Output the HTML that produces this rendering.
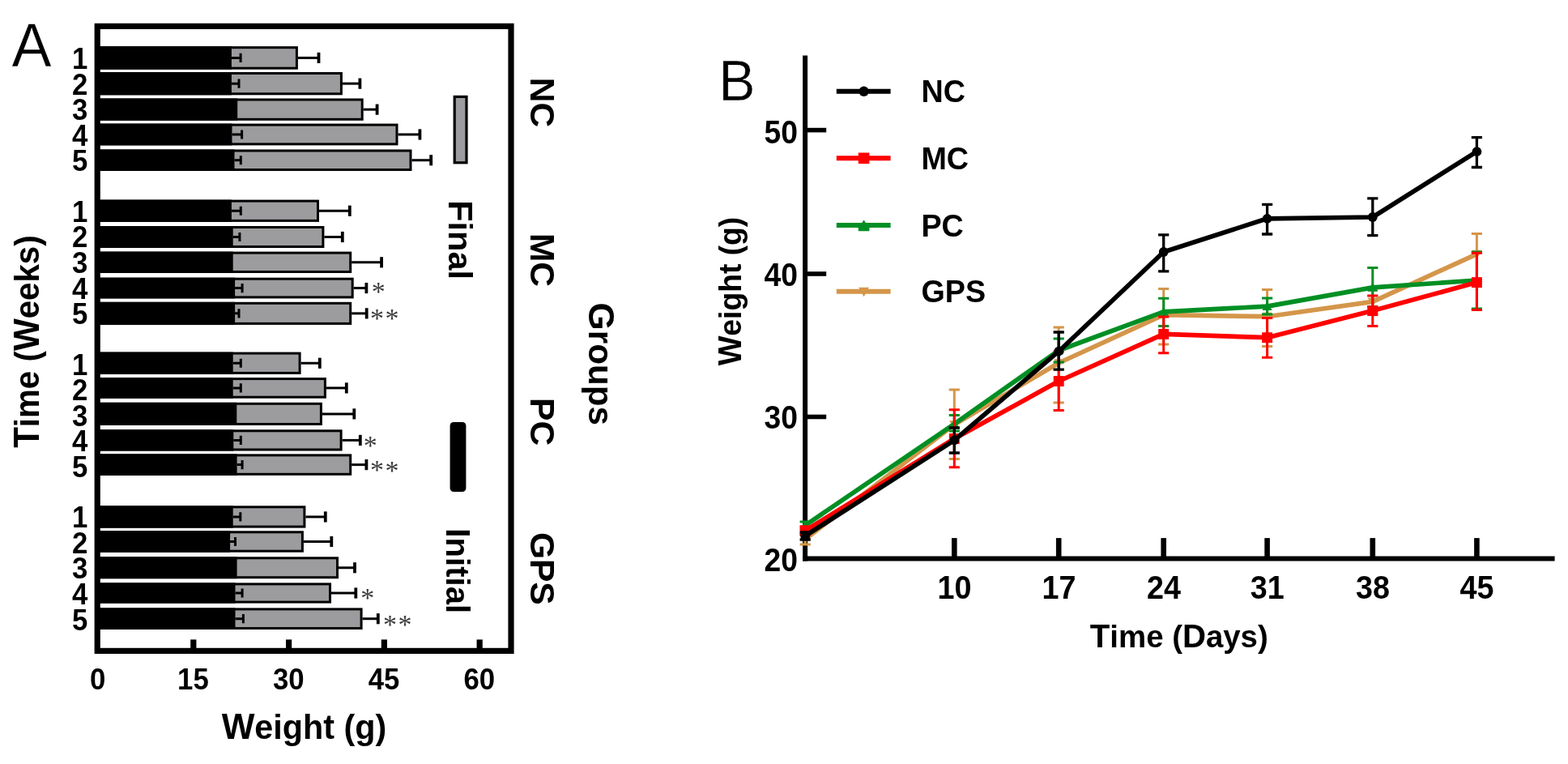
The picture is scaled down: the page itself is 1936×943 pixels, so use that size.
<!DOCTYPE html>
<html lang="en">
<head>
<meta charset="utf-8">
<title>Figure</title>
<style>
html,body{margin:0;padding:0;background:#fff;}
body{width:1936px;height:943px;overflow:hidden;}
svg{display:block;}
svg text{font-family:"Liberation Sans", sans-serif;fill:#000;}
svg text.pl{stroke:#fff;stroke-width:0.5px;}
svg text.st{font-family:"Liberation Serif",serif;font-size:34px;fill:#3c3c3c;}
</style>
</head>
<body>
<svg width="1936" height="943" viewBox="0 0 1936 943">
<rect x="0" y="0" width="1936" height="943" fill="#ffffff"/>
<g id="panelA">
<text class="pl" transform="translate(14.6 81.8) scale(1 1.03)" font-size="73.6" font-weight="400">A</text>
<rect x="120.2" y="58.65" width="246.2" height="25.55" fill="#9c9c9f" stroke="#000" stroke-width="3.0"/>
<path d="M367.9 71.42H393.5" stroke="#000" stroke-width="3" fill="none"/>
<path d="M393.5 64.83V78.02" stroke="#000" stroke-width="3.8" fill="none"/>
<rect x="120.2" y="57.15" width="165.7" height="28.55" fill="#000"/>
<path d="M285.9 71.42H297.1M297.1 65.83V77.02" stroke="#000" stroke-width="3" fill="none"/>
<text transform="translate(98.6 85.1) scale(0.955 1.0)" font-size="36.4" font-weight="700" text-anchor="middle">1</text>
<rect x="120.2" y="90.5" width="301.2" height="25.3" fill="#9c9c9f" stroke="#000" stroke-width="3.0"/>
<path d="M422.9 103.15H444.4" stroke="#000" stroke-width="3" fill="none"/>
<path d="M444.4 96.55V109.75" stroke="#000" stroke-width="3.8" fill="none"/>
<rect x="120.2" y="89" width="165.7" height="28.3" fill="#000"/>
<path d="M285.9 103.15H295M295 97.55V108.75" stroke="#000" stroke-width="3" fill="none"/>
<text transform="translate(98.6 116.65) scale(0.955 1.0)" font-size="36.4" font-weight="700" text-anchor="middle">2</text>
<rect x="120.2" y="123" width="327" height="24.3" fill="#9c9c9f" stroke="#000" stroke-width="3.0"/>
<path d="M448.7 135.15H465.6" stroke="#000" stroke-width="3" fill="none"/>
<path d="M465.6 128.55V141.75" stroke="#000" stroke-width="3.8" fill="none"/>
<rect x="120.2" y="121.5" width="173" height="27.3" fill="#000"/>
<text transform="translate(98.6 148.2) scale(0.955 1.0)" font-size="36.4" font-weight="700" text-anchor="middle">3</text>
<rect x="120.2" y="154.1" width="369.8" height="23.8" fill="#9c9c9f" stroke="#000" stroke-width="3.0"/>
<path d="M491.5 166H518.4" stroke="#000" stroke-width="3" fill="none"/>
<path d="M518.4 159.4V172.6" stroke="#000" stroke-width="3.8" fill="none"/>
<rect x="120.2" y="152.6" width="166.3" height="26.8" fill="#000"/>
<path d="M286.5 166H298.6M298.6 160.4V171.6" stroke="#000" stroke-width="3" fill="none"/>
<text transform="translate(98.6 179.75) scale(0.955 1.0)" font-size="36.4" font-weight="700" text-anchor="middle">4</text>
<rect x="120.2" y="186" width="386.8" height="23.5" fill="#9c9c9f" stroke="#000" stroke-width="3.0"/>
<path d="M508.5 197.75H532.2" stroke="#000" stroke-width="3" fill="none"/>
<path d="M532.2 191.15V204.35" stroke="#000" stroke-width="3.8" fill="none"/>
<rect x="120.2" y="184.5" width="169.3" height="26.5" fill="#000"/>
<path d="M289.5 197.75H297.3M297.3 192.15V203.35" stroke="#000" stroke-width="3" fill="none"/>
<text transform="translate(98.6 211.3) scale(0.955 1.0)" font-size="36.4" font-weight="700" text-anchor="middle">5</text>
<rect x="120.2" y="248.1" width="272.3" height="24.3" fill="#9c9c9f" stroke="#000" stroke-width="3.0"/>
<path d="M394 260.25H431.8" stroke="#000" stroke-width="3" fill="none"/>
<path d="M431.8 253.65V266.85" stroke="#000" stroke-width="3.8" fill="none"/>
<rect x="120.2" y="246.6" width="165.7" height="27.3" fill="#000"/>
<path d="M285.9 260.25H297.3M297.3 254.65V265.85" stroke="#000" stroke-width="3" fill="none"/>
<text transform="translate(98.6 273.85) scale(0.955 1.0)" font-size="36.4" font-weight="700" text-anchor="middle">1</text>
<rect x="120.2" y="280.5" width="278.7" height="24" fill="#9c9c9f" stroke="#000" stroke-width="3.0"/>
<path d="M400.4 292.5H422.8" stroke="#000" stroke-width="3" fill="none"/>
<path d="M422.8 285.9V299.1" stroke="#000" stroke-width="3.8" fill="none"/>
<rect x="120.2" y="279" width="167.5" height="27" fill="#000"/>
<path d="M287.7 292.5H295.9M295.9 286.9V298.1" stroke="#000" stroke-width="3" fill="none"/>
<text transform="translate(98.6 305.4) scale(0.955 1.0)" font-size="36.4" font-weight="700" text-anchor="middle">2</text>
<rect x="120.2" y="312.1" width="312.5" height="23.4" fill="#9c9c9f" stroke="#000" stroke-width="3.0"/>
<path d="M434.2 323.8H471.1" stroke="#000" stroke-width="3" fill="none"/>
<path d="M471.1 317.2V330.4" stroke="#000" stroke-width="3.8" fill="none"/>
<rect x="120.2" y="310.6" width="167.5" height="26.4" fill="#000"/>
<text transform="translate(98.6 336.95) scale(0.955 1.0)" font-size="36.4" font-weight="700" text-anchor="middle">3</text>
<rect x="120.2" y="344.2" width="315" height="22.7" fill="#9c9c9f" stroke="#000" stroke-width="3.0"/>
<path d="M436.7 355.55H452.4" stroke="#000" stroke-width="3" fill="none"/>
<path d="M452.4 348.95V362.15" stroke="#000" stroke-width="3.8" fill="none"/>
<rect x="120.2" y="342.7" width="169.9" height="25.7" fill="#000"/>
<path d="M290.1 355.55H299.1M299.1 349.95V361.15" stroke="#000" stroke-width="3" fill="none"/>
<text transform="translate(98.6 368.5) scale(0.955 1.0)" font-size="36.4" font-weight="700" text-anchor="middle">4</text>
<text class="st" x="467.3" y="371.25" text-anchor="middle">*</text>
<rect x="120.2" y="374.3" width="312.5" height="25.1" fill="#9c9c9f" stroke="#000" stroke-width="3.0"/>
<path d="M434.2 386.85H452.7" stroke="#000" stroke-width="3" fill="none"/>
<path d="M452.7 380.25V393.45" stroke="#000" stroke-width="3.8" fill="none"/>
<rect x="120.2" y="372.8" width="169.9" height="28.1" fill="#000"/>
<path d="M290.1 386.85H295M295 381.25V392.45" stroke="#000" stroke-width="3" fill="none"/>
<text transform="translate(98.6 400.05) scale(0.955 1.0)" font-size="36.4" font-weight="700" text-anchor="middle">5</text>
<text class="st" x="465.4" y="403.75" text-anchor="middle">*</text>
<text class="st" x="484" y="403.75" text-anchor="middle">*</text>
<rect x="120.2" y="436.1" width="249.9" height="24.3" fill="#9c9c9f" stroke="#000" stroke-width="3.0"/>
<path d="M371.6 448.25H394.8" stroke="#000" stroke-width="3" fill="none"/>
<path d="M394.8 441.65V454.85" stroke="#000" stroke-width="3.8" fill="none"/>
<rect x="120.2" y="434.6" width="167.5" height="27.3" fill="#000"/>
<path d="M287.7 448.25H297.3M297.3 442.65V453.85" stroke="#000" stroke-width="3" fill="none"/>
<text transform="translate(98.6 462.6) scale(0.955 1.0)" font-size="36.4" font-weight="700" text-anchor="middle">1</text>
<rect x="120.2" y="467.6" width="281.2" height="22.6" fill="#9c9c9f" stroke="#000" stroke-width="3.0"/>
<path d="M402.9 478.9H427.8" stroke="#000" stroke-width="3" fill="none"/>
<path d="M427.8 472.3V485.5" stroke="#000" stroke-width="3.8" fill="none"/>
<rect x="120.2" y="466.1" width="167.5" height="25.6" fill="#000"/>
<path d="M287.7 478.9H297.3M297.3 473.3V484.5" stroke="#000" stroke-width="3" fill="none"/>
<text transform="translate(98.6 494.15) scale(0.955 1.0)" font-size="36.4" font-weight="700" text-anchor="middle">2</text>
<rect x="120.2" y="498.3" width="276.2" height="25.2" fill="#9c9c9f" stroke="#000" stroke-width="3.0"/>
<path d="M397.9 510.9H437.3" stroke="#000" stroke-width="3" fill="none"/>
<path d="M437.3 504.3V517.5" stroke="#000" stroke-width="3.8" fill="none"/>
<rect x="120.2" y="496.8" width="172.1" height="28.2" fill="#000"/>
<text transform="translate(98.6 525.7) scale(0.955 1.0)" font-size="36.4" font-weight="700" text-anchor="middle">3</text>
<rect x="120.2" y="531.8" width="300.9" height="23.2" fill="#9c9c9f" stroke="#000" stroke-width="3.0"/>
<path d="M422.6 543.4H444.8" stroke="#000" stroke-width="3" fill="none"/>
<path d="M444.8 536.8V550" stroke="#000" stroke-width="3.8" fill="none"/>
<rect x="120.2" y="530.3" width="168.1" height="26.2" fill="#000"/>
<path d="M288.3 543.4H297.3M297.3 537.8V549" stroke="#000" stroke-width="3" fill="none"/>
<text transform="translate(98.6 557.25) scale(0.955 1.0)" font-size="36.4" font-weight="700" text-anchor="middle">4</text>
<text class="st" x="457.3" y="560.75" text-anchor="middle">*</text>
<rect x="120.2" y="561.9" width="312.5" height="23.4" fill="#9c9c9f" stroke="#000" stroke-width="3.0"/>
<path d="M434.2 573.6H452.4" stroke="#000" stroke-width="3" fill="none"/>
<path d="M452.4 567V580.2" stroke="#000" stroke-width="3.8" fill="none"/>
<rect x="120.2" y="560.4" width="172.4" height="26.4" fill="#000"/>
<path d="M292.6 573.6H299.1M299.1 568V579.2" stroke="#000" stroke-width="3" fill="none"/>
<text transform="translate(98.6 588.8) scale(0.955 1.0)" font-size="36.4" font-weight="700" text-anchor="middle">5</text>
<text class="st" x="465.4" y="591.45" text-anchor="middle">*</text>
<text class="st" x="484" y="591.75" text-anchor="middle">*</text>
<rect x="120.2" y="625.8" width="255.7" height="24.3" fill="#9c9c9f" stroke="#000" stroke-width="3.0"/>
<path d="M377.4 637.95H401.8" stroke="#000" stroke-width="3" fill="none"/>
<path d="M401.8 631.35V644.55" stroke="#000" stroke-width="3.8" fill="none"/>
<rect x="120.2" y="624.3" width="167.5" height="27.3" fill="#000"/>
<path d="M287.7 637.95H296.8M296.8 632.35V643.55" stroke="#000" stroke-width="3" fill="none"/>
<text transform="translate(98.6 651.35) scale(0.955 1.0)" font-size="36.4" font-weight="700" text-anchor="middle">1</text>
<rect x="120.2" y="656.8" width="253.2" height="23.4" fill="#9c9c9f" stroke="#000" stroke-width="3.0"/>
<path d="M374.9 668.5H409.3" stroke="#000" stroke-width="3" fill="none"/>
<path d="M409.3 661.9V675.1" stroke="#000" stroke-width="3.8" fill="none"/>
<rect x="120.2" y="655.3" width="163.9" height="26.4" fill="#000"/>
<path d="M284.1 668.5H290.5M290.5 662.9V674.1" stroke="#000" stroke-width="3" fill="none"/>
<text transform="translate(98.6 682.9) scale(0.955 1.0)" font-size="36.4" font-weight="700" text-anchor="middle">2</text>
<rect x="120.2" y="688.8" width="296.3" height="23.9" fill="#9c9c9f" stroke="#000" stroke-width="3.0"/>
<path d="M418 700.75H438" stroke="#000" stroke-width="3" fill="none"/>
<path d="M438 694.15V707.35" stroke="#000" stroke-width="3.8" fill="none"/>
<rect x="120.2" y="687.3" width="172.4" height="26.9" fill="#000"/>
<text transform="translate(98.6 714.45) scale(0.955 1.0)" font-size="36.4" font-weight="700" text-anchor="middle">3</text>
<rect x="120.2" y="720.9" width="287.3" height="22.2" fill="#9c9c9f" stroke="#000" stroke-width="3.0"/>
<path d="M409 732H439.3" stroke="#000" stroke-width="3" fill="none"/>
<path d="M439.3 725.4V738.6" stroke="#000" stroke-width="3.8" fill="none"/>
<rect x="120.2" y="719.4" width="170.3" height="25.2" fill="#000"/>
<path d="M290.5 732H299.1M299.1 726.4V737.6" stroke="#000" stroke-width="3" fill="none"/>
<text transform="translate(98.6 746) scale(0.955 1.0)" font-size="36.4" font-weight="700" text-anchor="middle">4</text>
<text class="st" x="453.7" y="749.35" text-anchor="middle">*</text>
<rect x="120.2" y="751.9" width="325.9" height="23.6" fill="#9c9c9f" stroke="#000" stroke-width="3.0"/>
<path d="M447.6 763.7H466.8" stroke="#000" stroke-width="3" fill="none"/>
<path d="M466.8 757.1V770.3" stroke="#000" stroke-width="3.8" fill="none"/>
<rect x="120.2" y="750.4" width="170.3" height="26.6" fill="#000"/>
<path d="M290.5 763.7H300.4M300.4 758.1V769.3" stroke="#000" stroke-width="3" fill="none"/>
<text transform="translate(98.6 777.55) scale(0.955 1.0)" font-size="36.4" font-weight="700" text-anchor="middle">5</text>
<text class="st" x="481.6" y="781.85" text-anchor="middle">*</text>
<text class="st" x="500" y="781.85" text-anchor="middle">*</text>
<rect x="120.2" y="32.4" width="510.8" height="771" fill="none" stroke="#000" stroke-width="7.2"/>
<text transform="translate(120.6 850.6) scale(0.96 1.0)" font-size="36.2" font-weight="700" text-anchor="middle">0</text>
<path d="M238.8 803.4V789.4" stroke="#000" stroke-width="7.2" fill="none"/>
<text transform="translate(238.4 850.6) scale(0.96 1.0)" font-size="36.2" font-weight="700" text-anchor="middle">15</text>
<path d="M356.59 803.4V789.4" stroke="#000" stroke-width="7.2" fill="none"/>
<text transform="translate(356.19 850.6) scale(0.96 1.0)" font-size="36.2" font-weight="700" text-anchor="middle">30</text>
<path d="M474.38 803.4V789.4" stroke="#000" stroke-width="7.2" fill="none"/>
<text transform="translate(473.99 850.6) scale(0.96 1.0)" font-size="36.2" font-weight="700" text-anchor="middle">45</text>
<path d="M592.18 803.4V789.4" stroke="#000" stroke-width="7.2" fill="none"/>
<text transform="translate(591.78 850.6) scale(0.96 1.0)" font-size="36.2" font-weight="700" text-anchor="middle">60</text>
<text transform="translate(375.4 912.1) scale(1.0 1.03)" font-size="41.3" font-weight="700" text-anchor="middle"><tspan font-size="43.16">W</tspan>eight (g)</text>
<text transform="translate(48 421.6) rotate(-90) scale(1.0 1.055)" font-size="40.3" font-weight="700" text-anchor="middle"><tspan font-size="42.11">T</tspan>ime (<tspan font-size="42.11">W</tspan>eeks)</text>
<rect x="561.2" y="119.4" width="14.8" height="81.4" fill="#9c9c9f" stroke="#000" stroke-width="3.2"/>
<rect x="555.6" y="521" width="19.8" height="86" rx="4.5" fill="#000"/>
<text transform="translate(553.8 296) rotate(90)" font-size="41.5" font-weight="700" text-anchor="middle"><tspan font-size="43.37">F</tspan>inal</text>
<text transform="translate(550.6 704.5) rotate(90) scale(0.965 1.0)" font-size="41.5" font-weight="700" text-anchor="middle"><tspan font-size="43.37">I</tspan>nitial</text>
<text transform="translate(654.6 126.4) rotate(90)" font-size="42.5" font-weight="700" text-anchor="middle">NC</text>
<text transform="translate(654.6 321) rotate(90)" font-size="42.5" font-weight="700" text-anchor="middle">MC</text>
<text transform="translate(654.6 520.6) rotate(90)" font-size="42.5" font-weight="700" text-anchor="middle">PC</text>
<text transform="translate(654.6 701.8) rotate(90)" font-size="42.5" font-weight="700" text-anchor="middle">GPS</text>
<text transform="translate(727 449.2) rotate(90)" font-size="42.2" font-weight="700" text-anchor="middle"><tspan font-size="44.1">G</tspan>roups</text>
</g>
<g id="panelB">
<text class="pl" transform="translate(887.2 124.2) scale(1 1.03)" font-size="68" font-weight="400">B</text>
<path d="M994.1 68.4V692.4" stroke="#000" stroke-width="6.0" fill="none"/>
<path d="M991.1 689.4H1919.6" stroke="#000" stroke-width="6.0" fill="none"/>
<path d="M994.1 514.5H1020.2" stroke="#000" stroke-width="5.6" fill="none"/>
<path d="M994.1 338H1020.2" stroke="#000" stroke-width="5.6" fill="none"/>
<path d="M994.1 160.6H1020.2" stroke="#000" stroke-width="5.6" fill="none"/>
<text transform="translate(984.9 705) scale(0.905 1.0)" font-size="41.2" font-weight="700" text-anchor="end">20</text>
<text transform="translate(984.9 528.7) scale(0.905 1.0)" font-size="41.2" font-weight="700" text-anchor="end">30</text>
<text transform="translate(984.9 352.5) scale(0.905 1.0)" font-size="41.2" font-weight="700" text-anchor="end">40</text>
<text transform="translate(984.9 176.7) scale(0.905 1.0)" font-size="41.2" font-weight="700" text-anchor="end">50</text>
<path d="M1178.3 689.4V664.1" stroke="#000" stroke-width="6.6" fill="none"/>
<text transform="translate(1178.5 738.9) scale(0.925 1.0)" font-size="40.8" font-weight="700" text-anchor="middle">10</text>
<path d="M1307.2 689.4V664.1" stroke="#000" stroke-width="6.6" fill="none"/>
<text transform="translate(1307.4 738.9) scale(0.925 1.0)" font-size="40.8" font-weight="700" text-anchor="middle">17</text>
<path d="M1436.7 689.4V664.1" stroke="#000" stroke-width="6.6" fill="none"/>
<text transform="translate(1436.9 738.9) scale(0.925 1.0)" font-size="40.8" font-weight="700" text-anchor="middle">24</text>
<path d="M1564.6 689.4V664.1" stroke="#000" stroke-width="6.6" fill="none"/>
<text transform="translate(1564.8 738.9) scale(0.925 1.0)" font-size="40.8" font-weight="700" text-anchor="middle">31</text>
<path d="M1694.8 689.4V664.1" stroke="#000" stroke-width="6.6" fill="none"/>
<text transform="translate(1695 738.9) scale(0.925 1.0)" font-size="40.8" font-weight="700" text-anchor="middle">38</text>
<path d="M1823.4 689.4V664.1" stroke="#000" stroke-width="6.6" fill="none"/>
<text transform="translate(1823.6 738.9) scale(0.925 1.0)" font-size="40.8" font-weight="700" text-anchor="middle">45</text>
<text transform="translate(1455.8 799.3) scale(1.0 1.02)" font-size="38.4" font-weight="700" text-anchor="middle"><tspan font-size="40.13">T</tspan>ime (<tspan font-size="40.13">D</tspan>ays)</text>
<text transform="translate(914.6 359.6) rotate(-90) scale(0.985 1.02)" font-size="37.8" font-weight="700" text-anchor="middle"><tspan font-size="39.5">W</tspan>eight (g)</text>
<path d="M994.2 660V672M987.6 660H1000.8M987.6 672H1000.8" stroke="#d4964a" stroke-width="3.0" fill="none"/>
<path d="M1178.3 480.9V566.6M1171.7 480.9H1184.9M1171.7 566.6H1184.9" stroke="#d4964a" stroke-width="3.0" fill="none"/>
<path d="M1307.2 404V497M1300.6 404H1313.8M1300.6 497H1313.8" stroke="#d4964a" stroke-width="3.0" fill="none"/>
<path d="M1436.7 356.6V425M1430.1 356.6H1443.3M1430.1 425H1443.3" stroke="#d4964a" stroke-width="3.0" fill="none"/>
<path d="M1564.6 357.4V427.4M1558 357.4H1571.2M1558 427.4H1571.2" stroke="#d4964a" stroke-width="3.0" fill="none"/>
<path d="M1694.8 358V388M1688.2 358H1701.4M1688.2 388H1701.4" stroke="#d4964a" stroke-width="3.0" fill="none"/>
<path d="M1823.4 288.6V346.5M1816.8 288.6H1830M1816.8 346.5H1830" stroke="#d4964a" stroke-width="3.0" fill="none"/>
<polyline points="994.2,665.5 1178.3,524 1307.2,448 1436.7,388.7 1564.6,390.7 1694.8,372.4 1823.4,313.6" fill="none" stroke="#d4964a" stroke-width="5.7" stroke-linejoin="round" stroke-linecap="round"/>
<path d="M994.2 671.58L1000.28 660.64H988.12Z" fill="#d4964a"/>
<path d="M1178.3 530.08L1184.38 519.14H1172.22Z" fill="#d4964a"/>
<path d="M1307.2 454.08L1313.28 443.14H1301.12Z" fill="#d4964a"/>
<path d="M1436.7 394.78L1442.78 383.84H1430.62Z" fill="#d4964a"/>
<path d="M1564.6 396.78L1570.68 385.84H1558.52Z" fill="#d4964a"/>
<path d="M1694.8 378.48L1700.88 367.54H1688.72Z" fill="#d4964a"/>
<path d="M1823.4 319.68L1829.48 308.74H1817.32Z" fill="#d4964a"/>
<path d="M994.2 644V653M987.6 644H1000.8M987.6 653H1000.8" stroke="#008f24" stroke-width="3.0" fill="none"/>
<path d="M1178.3 512.6V532M1171.7 512.6H1184.9M1171.7 532H1184.9" stroke="#008f24" stroke-width="3.0" fill="none"/>
<path d="M1307.2 418V447M1300.6 418H1313.8M1300.6 447H1313.8" stroke="#008f24" stroke-width="3.0" fill="none"/>
<path d="M1436.7 368.2V402.4M1430.1 368.2H1443.3M1430.1 402.4H1443.3" stroke="#008f24" stroke-width="3.0" fill="none"/>
<path d="M1564.6 368V388M1558 368H1571.2M1558 388H1571.2" stroke="#008f24" stroke-width="3.0" fill="none"/>
<path d="M1694.8 330.6V378.6M1688.2 330.6H1701.4M1688.2 378.6H1701.4" stroke="#008f24" stroke-width="3.0" fill="none"/>
<path d="M1823.4 311V381M1816.8 311H1830M1816.8 381H1830" stroke="#008f24" stroke-width="3.0" fill="none"/>
<polyline points="994.2,648.5 1178.3,523.3 1307.2,432.5 1436.7,384.9 1564.6,378.1 1694.8,354.9 1823.4,346" fill="none" stroke="#008f24" stroke-width="5.7" stroke-linejoin="round" stroke-linecap="round"/>
<path d="M994.2 642.42L1000.28 653.36H988.12Z" fill="#008f24"/>
<path d="M1178.3 517.22L1184.38 528.16H1172.22Z" fill="#008f24"/>
<path d="M1307.2 426.42L1313.28 437.36H1301.12Z" fill="#008f24"/>
<path d="M1436.7 378.82L1442.78 389.76H1430.62Z" fill="#008f24"/>
<path d="M1564.6 372.02L1570.68 382.96H1558.52Z" fill="#008f24"/>
<path d="M1694.8 348.82L1700.88 359.76H1688.72Z" fill="#008f24"/>
<path d="M1823.4 339.92L1829.48 350.86H1817.32Z" fill="#008f24"/>
<path d="M994.2 650V660M987.6 650H1000.8M987.6 660H1000.8" stroke="#ff0000" stroke-width="3.0" fill="none"/>
<path d="M1178.3 505.8V576.8M1171.7 505.8H1184.9M1171.7 576.8H1184.9" stroke="#ff0000" stroke-width="3.0" fill="none"/>
<path d="M1307.2 434V506.5M1300.6 434H1313.8M1300.6 506.5H1313.8" stroke="#ff0000" stroke-width="3.0" fill="none"/>
<path d="M1436.7 391V435.7M1430.1 391H1443.3M1430.1 435.7H1443.3" stroke="#ff0000" stroke-width="3.0" fill="none"/>
<path d="M1564.6 392.4V441.2M1558 392.4H1571.2M1558 441.2H1571.2" stroke="#ff0000" stroke-width="3.0" fill="none"/>
<path d="M1694.8 364.9V402.4M1688.2 364.9H1701.4M1688.2 402.4H1701.4" stroke="#ff0000" stroke-width="3.0" fill="none"/>
<path d="M1823.4 312.3V382.4M1816.8 312.3H1830M1816.8 382.4H1830" stroke="#ff0000" stroke-width="3.0" fill="none"/>
<polyline points="994.2,655 1178.3,541.5 1307.2,470.5 1436.7,412.4 1564.6,416.7 1694.8,383.6 1823.4,348.6" fill="none" stroke="#ff0000" stroke-width="5.7" stroke-linejoin="round" stroke-linecap="round"/>
<rect x="987.74" y="648.54" width="12.92" height="12.92" fill="#ff0000"/>
<rect x="1171.84" y="535.04" width="12.92" height="12.92" fill="#ff0000"/>
<rect x="1300.74" y="464.04" width="12.92" height="12.92" fill="#ff0000"/>
<rect x="1430.24" y="405.94" width="12.92" height="12.92" fill="#ff0000"/>
<rect x="1558.14" y="410.24" width="12.92" height="12.92" fill="#ff0000"/>
<rect x="1688.34" y="377.14" width="12.92" height="12.92" fill="#ff0000"/>
<rect x="1816.94" y="342.14" width="12.92" height="12.92" fill="#ff0000"/>
<path d="M994.2 657V666M987.6 657H1000.8M987.6 666H1000.8" stroke="#000000" stroke-width="3.3" fill="none"/>
<path d="M1178.3 528V559M1171.7 528H1184.9M1171.7 559H1184.9" stroke="#000000" stroke-width="3.3" fill="none"/>
<path d="M1307.2 410V456.2M1300.6 410H1313.8M1300.6 456.2H1313.8" stroke="#000000" stroke-width="3.3" fill="none"/>
<path d="M1436.7 289.8V334.9M1430.1 289.8H1443.3M1430.1 334.9H1443.3" stroke="#000000" stroke-width="3.3" fill="none"/>
<path d="M1564.6 252.3V289M1558 252.3H1571.2M1558 289H1571.2" stroke="#000000" stroke-width="3.3" fill="none"/>
<path d="M1694.8 244.8V290.6M1688.2 244.8H1701.4M1688.2 290.6H1701.4" stroke="#000000" stroke-width="3.3" fill="none"/>
<path d="M1823.4 169.7V206.5M1816.8 169.7H1830M1816.8 206.5H1830" stroke="#000000" stroke-width="3.3" fill="none"/>
<polyline points="994.2,661.5 1178.3,543.3 1307.2,433.7 1436.7,311 1564.6,269.8 1694.8,268 1823.4,187.2" fill="none" stroke="#000000" stroke-width="5.7" stroke-linejoin="round" stroke-linecap="round"/>
<circle cx="994.2" cy="661.5" r="5.89" fill="#000000"/>
<circle cx="1178.3" cy="543.3" r="5.89" fill="#000000"/>
<circle cx="1307.2" cy="433.7" r="5.89" fill="#000000"/>
<circle cx="1436.7" cy="311" r="5.89" fill="#000000"/>
<circle cx="1564.6" cy="269.8" r="5.89" fill="#000000"/>
<circle cx="1694.8" cy="268" r="5.89" fill="#000000"/>
<circle cx="1823.4" cy="187.2" r="5.89" fill="#000000"/>
<path d="M1032.8 112.8H1099.6" stroke="#000000" stroke-width="6" fill="none"/>
<circle cx="1066.6" cy="112.8" r="6.2" fill="#000000"/>
<text transform="translate(1137.4 126.4) scale(0.98 1.02)" font-size="38.5" font-weight="700">NC</text>
<path d="M1032.8 195.3H1099.6" stroke="#ff0000" stroke-width="6" fill="none"/>
<rect x="1059.8" y="188.5" width="13.6" height="13.6" fill="#ff0000"/>
<text transform="translate(1137.4 208.9) scale(0.98 1.02)" font-size="38.5" font-weight="700">MC</text>
<path d="M1032.8 278.0H1099.6" stroke="#008f24" stroke-width="6" fill="none"/>
<path d="M1066.6 271.6L1073.4 281.2V285.3H1059.8V281.2Z" fill="#008f24"/>
<text transform="translate(1137.4 291.6) scale(0.98 1.02)" font-size="38.5" font-weight="700">PC</text>
<path d="M1032.8 359.8H1099.6" stroke="#d4964a" stroke-width="6" fill="none"/>
<path d="M1066.6 366.2L1073 354.68H1060.2Z" fill="#d4964a"/>
<text transform="translate(1137.4 373.4) scale(0.98 1.02)" font-size="38.5" font-weight="700">GPS</text>
</g>
</svg>
</body>
</html>
